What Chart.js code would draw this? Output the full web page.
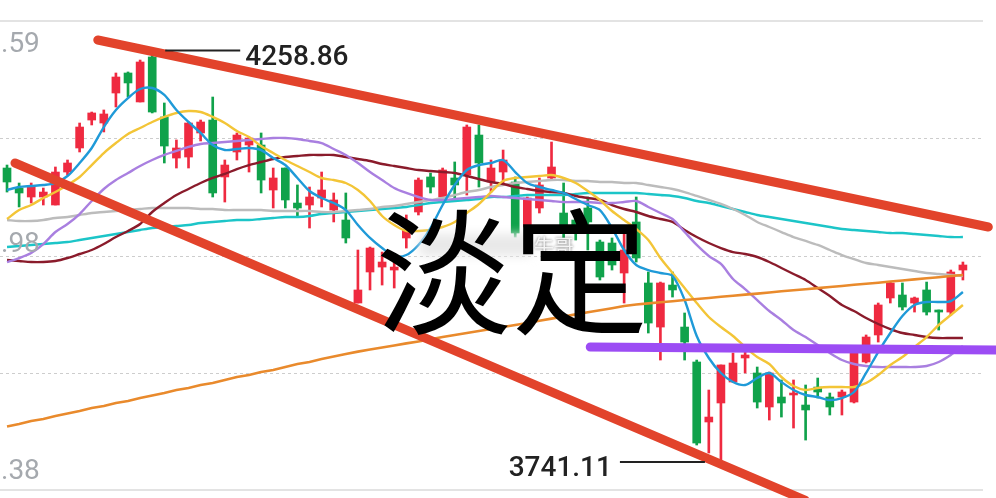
<!DOCTYPE html>
<html>
<head>
<meta charset="utf-8">
<script src="https://cdn.jsdelivr.net/npm/chart.js@4.4.1/dist/chart.umd.min.js"></script>
<style>
  html, body { margin: 0; padding: 0; background: #fff; overflow: hidden; }
  #wrap { width: 996px; height: 498px; }
</style>
</head>
<body>
<div id="wrap"><canvas id="kline" width="996" height="498"></canvas></div>
<script>
// daily candles, index 0..79
var opens  = [4115.5,4090.0,4078.6,4078.6,4068.4,4110.4,4141.0,4176.6,4172.8,4211.0,
              4236.5,4199.6,4256.9,4180.5,4128.2,4129.5,4160.1,4176.6,4104.1,4135.9,
              4144.8,4144.8,4087.5,4115.5,4070.9,4068.4,4077.3,4062.0,4049.3,3943.6,
              3983.1,3989.4,3985.6,4026.4,4059.5,4104.1,4078.6,4102.8,4106.6,4157.5,
              4097.7,4110.4,4097.7,4040.4,4064.6,4102.8,4058.2,4049.3,4064.6,4021.3,
              4020.0,3981.8,4046.8,3969.1,3913.0,3966.5,3913.0,3868.5,3792.1,3816.3,
              3843.0,3873.6,3854.5,3811.2,3823.9,3826.5,3813.7,3836.6,3823.9,3823.9,
              3817.5,3868.5,3902.9,3950.0,3953.8,3943.6,3960.2,3934.7,3932.1,3985.6]
var highs  = [4119.3,4096.4,4096.4,4090.0,4116.8,4125.7,4172.8,4186.8,4189.4,4236.5,
              4237.8,4253.0,4258.86,4198.3,4151.2,4174.1,4176.6,4205.9,4125.7,4160.1,
              4155.0,4160.1,4115.5,4115.5,4093.9,4091.3,4110.4,4083.7,4083.7,4011.1,
              4014.9,4008.5,4002.2,4055.7,4102.8,4109.1,4115.5,4123.2,4170.3,4170.3,
              4125.7,4138.4,4104.1,4078.6,4102.8,4148.6,4096.4,4062.0,4078.6,4023.8,
              4026.4,4040.4,4078.6,3983.1,3970.3,3983.1,3930.9,3871.0,3832.8,3864.7,
              3879.9,3881.2,3862.1,3855.7,3845.6,3845.6,3839.2,3848.1,3829.0,3832.8,
              3881.2,3902.9,3943.6,3970.3,3969.1,3951.2,3970.3,3934.7,3985.6,3995.8]
var lows   = [4084.9,4065.9,4070.9,4068.4,4068.4,4106.6,4135.9,4170.3,4161.4,4193.2,
              4205.9,4199.6,4185.6,4121.9,4115.5,4115.5,4149.9,4078.6,4072.2,4125.7,
              4110.4,4083.7,4064.6,4064.6,4053.1,4039.1,4065.9,4046.8,4020.0,3943.6,
              3960.2,3966.5,3962.7,4013.6,4055.7,4083.7,4078.6,4074.8,4081.1,4091.3,
              4084.9,4096.4,4027.6,4039.1,4058.2,4100.2,4026.4,4023.8,4011.1,3972.9,
              3985.6,3943.6,3995.8,3905.4,3871.0,3951.2,3871.0,3762.8,3752.6,3741.11,
              3843.0,3854.5,3809.9,3794.6,3798.4,3784.4,3769.1,3822.6,3801.0,3801.0,
              3816.3,3867.2,3893.9,3943.6,3934.7,3932.1,3928.3,3909.2,3928.3,3972.9]
var closes = [4097.7,4083.7,4091.3,4084.9,4110.4,4121.9,4167.7,4185.6,4184.3,4231.4,
              4223.8,4250.5,4186.8,4143.5,4141.0,4172.8,4174.1,4083.7,4119.3,4157.5,
              4153.7,4100.2,4102.8,4074.8,4064.6,4078.6,4087.5,4074.8,4026.4,3960.2,
              4013.6,3995.8,3989.4,4036.6,4100.2,4091.3,4113.0,4093.9,4167.7,4121.9,
              4115.5,4125.7,4032.7,4077.3,4093.9,4116.8,4032.7,4034.0,4046.8,3976.7,
              3992.0,4011.1,4000.9,3918.1,3969.1,3960.2,3893.9,3765.3,3798.4,3864.7,
              3867.2,3877.4,3817.5,3854.5,3816.3,3829.0,3807.4,3830.3,3811.2,3830.3,
              3879.9,3900.3,3941.1,3969.1,3938.5,3950.0,3932.1,3932.1,3983.1,3992.0]

// moving averages
var ma5   = [4087.5,4091.3,4092.6,4093.9,4096.4,4105.3,4121.9,4141.0,4167.7,4189.4,
             4204.6,4216.1,4217.4,4208.5,4189.4,4174.1,4160.1,4144.8,4138.4,4139.7,
             4141.0,4138.4,4128.2,4119.3,4102.8,4086.2,4077.3,4070.9,4062.0,4042.9,
             4026.4,4013.6,4003.5,4004.7,4017.5,4039.1,4068.4,4093.9,4113.0,4119.3,
             4121.9,4125.7,4110.4,4096.4,4091.3,4087.5,4083.7,4076.0,4068.4,4062.0,
             4039.1,4011.1,3992.0,3985.6,3981.8,3978.0,3947.4,3901.6,3873.6,3854.5,
             3843.0,3839.2,3848.1,3854.5,3843.0,3832.8,3826.5,3823.9,3820.1,3822.6,
             3830.3,3854.5,3881.2,3905.4,3927.1,3941.1,3944.9,3944.9,3946.1,3957.6]
var ma10  = [4050.6,4062.0,4068.4,4077.3,4084.9,4093.9,4104.1,4119.3,4134.6,4147.3,
             4158.8,4166.4,4174.1,4180.5,4185.6,4188.1,4186.8,4180.5,4172.8,4162.6,
             4155.0,4143.5,4134.6,4125.7,4118.1,4110.4,4102.8,4100.2,4096.4,4087.5,
             4073.5,4054.4,4042.9,4035.3,4035.3,4036.6,4040.4,4046.8,4058.2,4069.7,
             4084.9,4099.0,4102.8,4104.1,4105.3,4106.6,4102.8,4096.4,4086.2,4074.8,
             4060.8,4049.3,4037.8,4023.8,4000.9,3981.8,3962.7,3943.6,3925.8,3913.0,
             3901.6,3887.6,3874.8,3865.9,3849.4,3837.9,3832.8,3835.4,3836.6,3836.6,
             3836.6,3841.7,3851.9,3864.7,3874.8,3887.6,3900.3,3915.6,3928.3,3941.1]
var ma20  = [3995.8,4000.9,4007.3,4018.7,4034.0,4044.2,4056.9,4073.5,4088.8,4100.2,
             4109.1,4118.1,4125.7,4132.1,4137.2,4142.3,4146.1,4147.3,4148.6,4149.9,
             4151.2,4152.4,4153.7,4153.7,4152.4,4149.9,4147.3,4139.7,4132.1,4121.9,
             4110.4,4100.2,4090.0,4083.7,4078.6,4074.8,4074.8,4076.0,4077.3,4078.6,
             4079.9,4078.6,4077.3,4076.0,4074.8,4073.5,4072.2,4072.2,4072.2,4070.9,
             4070.9,4072.2,4073.5,4065.9,4058.2,4050.6,4034.0,4017.5,4003.5,3993.3,
             3974.2,3961.4,3947.4,3933.4,3922.0,3909.2,3900.3,3890.1,3879.9,3871.0,
             3865.9,3863.4,3862.1,3862.1,3862.1,3862.1,3863.4,3868.5,3877.4,3888.8]
var ma30  = [3998.4,3997.1,3995.8,3995.8,3997.1,4000.9,4006.0,4011.1,4018.7,4027.6,
             4035.3,4044.2,4059.5,4070.9,4081.1,4088.8,4096.4,4102.8,4107.9,4114.2,
             4119.3,4123.2,4127.0,4129.5,4130.8,4132.1,4132.1,4132.1,4129.5,4127.0,
             4124.4,4120.6,4118.1,4115.5,4113.0,4111.7,4110.4,4109.1,4105.3,4101.5,
             4097.7,4095.1,4091.3,4088.8,4086.2,4084.9,4083.7,4079.9,4077.3,4074.8,
             4068.4,4063.3,4059.5,4054.4,4050.6,4046.8,4036.6,4027.6,4020.0,4013.6,
             4008.5,4006.0,4002.2,3995.8,3988.2,3980.5,3972.9,3962.7,3952.5,3941.1,
             3933.4,3924.5,3916.9,3910.5,3905.4,3902.9,3900.3,3899.0,3899.0,3899.0]
var ma60  = [4049.3,4048.0,4048.0,4049.3,4051.8,4053.1,4055.7,4058.2,4059.5,4060.8,
             4062.0,4063.3,4064.6,4064.6,4064.6,4064.6,4063.3,4063.3,4062.0,4062.0,
             4062.0,4062.0,4060.8,4060.8,4060.8,4060.8,4059.5,4059.5,4060.8,4062.0,
             4063.3,4065.9,4067.1,4069.7,4072.2,4074.8,4077.3,4081.1,4084.9,4087.5,
             4091.3,4093.9,4096.4,4097.7,4099.0,4100.2,4100.2,4099.0,4099.0,4097.7,
             4097.7,4096.4,4096.4,4093.9,4091.3,4088.8,4084.9,4079.9,4074.8,4069.7,
             4063.3,4055.7,4046.8,4040.4,4034.0,4027.6,4022.6,4017.5,4011.1,4004.7,
             3999.6,3994.5,3992.0,3989.4,3986.9,3984.4,3981.8,3980.5,3979.3,3978.0]
var ma120 = [4014.9,4016.2,4017.5,4018.7,4020.0,4021.3,4023.8,4026.4,4028.9,4031.5,
             4034.0,4036.6,4039.1,4040.4,4041.7,4042.9,4045.5,4046.8,4048.0,4049.3,
             4049.3,4050.6,4051.8,4053.1,4053.1,4054.4,4056.9,4058.2,4059.5,4060.8,
             4062.0,4063.3,4064.6,4065.9,4068.4,4070.9,4072.2,4073.5,4074.8,4076.0,
             4078.6,4078.6,4079.9,4081.1,4081.1,4081.1,4081.1,4082.4,4083.7,4083.7,
             4083.7,4083.7,4083.7,4082.4,4081.1,4079.9,4077.3,4073.5,4070.9,4067.1,
             4063.3,4059.5,4055.7,4053.1,4050.6,4048.0,4045.5,4042.9,4040.4,4037.8,
             4036.6,4035.3,4034.0,4032.7,4032.7,4031.5,4030.2,4028.9,4027.6,4027.6]
var ma250 = [3786.3,3789.5,3793.3,3795.9,3799.7,3802.9,3806.1,3809.9,3812.4,3816.3,
             3818.8,3822.6,3825.8,3829.0,3832.8,3835.4,3839.2,3841.7,3845.6,3849.4,
             3851.9,3855.7,3858.3,3862.1,3865.9,3868.5,3872.3,3875.5,3878.7,3881.7,
             3884.3,3886.9,3889.5,3892.2,3894.7,3897.4,3900.3,3902.9,3905.4,3907.9,
             3910.5,3913.0,3915.6,3918.1,3921.1,3923.7,3926.5,3929.1,3931.8,3934.3,
             3937.0,3939.8,3941.7,3943.1,3944.6,3945.9,3947.4,3948.7,3950.0,3951.5,
             3952.9,3954.3,3955.6,3957.0,3958.5,3959.8,3961.2,3962.5,3964.0,3965.3,
             3966.8,3968.1,3969.5,3970.9,3972.3,3973.7,3975.1,3976.5,3977.9,3979.3]

// hand drawn lines (index, price)
var upperTrendX = [7.5, 81.1],  upperTrendY = [4278.5, 4040.4]
var lowerTrendX = [0.66, 65.95], lowerTrendY = [4121.9, 3692.7]
var supportX    = [48.2, 81.74], supportY    = [3887.6, 3883.8]

// marks and labels
var highIdx = 12, highVal = 4258.86
var lowIdx = 59,  lowVal = 3741.11
var priceLabelVals  = [4269.59, 3998.98, 3728.38]
var priceLabelTexts = ['.59', '.98', '.38']
var yMin = 3705.5, yMax = 4302.7

var upColor = '#ef2a40', downColor = '#10a24b'
var candleColors = opens.map((o, i) => closes[i] >= o ? upColor : downColor)

function pts(xs, ys) { return xs.map((x, i) => ({x: x, y: ys[i]})) }
function series(arr) { return arr.map((v, i) => ({x: i, y: v})) }

function maLine(data, color, order) {
  return {
    type: 'line', data: series(data), borderColor: color, borderWidth: 2.4,
    pointRadius: 0, tension: 0.3, order: order
  }
}
function handLine(xs, ys, color, width) {
  return {
    type: 'line', data: pts(xs, ys), borderColor: color, borderWidth: width,
    borderCapStyle: 'round', pointRadius: 0, tension: 0, clip: false, order: 1
  }
}

var gridPlugin = {
  id: 'grid',
  beforeDatasetsDraw(chart) {
    var ctx = chart.ctx, a = chart.chartArea, y = chart.scales.y
    ctx.save()
    for (var k = 0; k <= 4; k++) {
      var py = Math.round(y.getPixelForValue(y.min + k * (y.max - y.min) / 4))
      ctx.beginPath()
      if (k == 0 || k == 4) {
        ctx.strokeStyle = '#e3e3e3'; ctx.lineWidth = 2; ctx.setLineDash([])
      } else {
        ctx.strokeStyle = '#cdcdcd'; ctx.lineWidth = 1; ctx.setLineDash([3, 3]); py += 0.5
      }
      ctx.moveTo(a.left, py); ctx.lineTo(a.right, py); ctx.stroke()
    }
    ctx.restore()
  }
}

var notePlugin = {
  id: 'notes',
  afterDraw(chart) {
    var ctx = chart.ctx, x = chart.scales.x, y = chart.scales.y
    ctx.save()
    // price labels on the left
    var shift = [-2, -15, 0]
    ctx.font = '28px Roboto'
    ctx.fillStyle = '#a5a9ae'
    ctx.textAlign = 'left'; ctx.textBaseline = 'middle'
    priceLabelVals.forEach(function(v, k) {
      ctx.fillText(priceLabelTexts[k], 1, y.getPixelForValue(v) + shift[k])
    })

    // high / low marks
    ctx.strokeStyle = '#222'; ctx.fillStyle = '#222'; ctx.lineWidth = 2
    ctx.font = '500 28px Roboto'
    ctx.textBaseline = 'alphabetic'
    var hx = x.getPixelForValue(highIdx), hy = y.getPixelForValue(highVal)
    ctx.beginPath(); ctx.moveTo(hx + 13, hy - 5); ctx.lineTo(hx + 88, hy - 5); ctx.stroke()
    ctx.textAlign = 'left'
    ctx.fillText(highVal.toFixed(2), hx + 93, hy + 10)

    var lx = x.getPixelForValue(lowIdx), ly = y.getPixelForValue(lowVal)
    ctx.beginPath(); ctx.moveTo(lx - 101, ly); ctx.lineTo(lx - 16, ly); ctx.stroke()
    ctx.textAlign = 'right'
    ctx.fillText(lowVal.toFixed(2), lx - 109, ly + 14)

    // blurred watermark
    ctx.filter = 'blur(5px)'
    ctx.fillStyle = 'rgba(232,232,232,0.95)'
    ctx.fillRect(420, 234, 112, 22)
    ctx.filter = 'none'
    ctx.font = '20px "Noto Sans CJK SC"'
    ctx.textAlign = 'left'; ctx.textBaseline = 'middle'
    ctx.shadowColor = 'rgba(0,0,0,0.6)'; ctx.shadowBlur = 3
    ctx.fillStyle = '#f4f4f4'
    ctx.fillText('牛哥', 534, 246)
    ctx.shadowBlur = 0

    // big caption
    ctx.font = '400 136px "Noto Sans CJK SC"'
    ctx.fillStyle = '#000'
    ctx.textAlign = 'center'; ctx.textBaseline = 'alphabetic'
    ctx.fillText('淡定', 512, 324)
    ctx.restore()
  }
}

var ctx = document.getElementById('kline').getContext('2d')
new Chart(ctx, {
  type: 'bar',
  data: {
    datasets: [
      handLine(upperTrendX, upperTrendY, '#e2432b', 9),
      handLine(lowerTrendX, lowerTrendY, '#e2432b', 9),
      handLine(supportX, supportY, '#9c4cf4', 9),
      maLine(ma5, '#1f9ad8', 4),
      maLine(ma10, '#f3c537', 5),
      maLine(ma20, '#a97fe0', 6),
      maLine(ma30, '#8a1b2b', 7),
      maLine(ma60, '#bcbcbc', 8),
      maLine(ma120, '#1cc5c8', 9),
      Object.assign(maLine(ma250, '#e98a2c', 3), {tension: 0, borderWidth: 2.6}),
      {
        label: 'body', data: opens.map((o, i) => ({x: i, y: [o, closes[i]]})),
        backgroundColor: candleColors, barThickness: 8, grouped: false, order: 19,
        minBarLength: 1
      },
      {
        label: 'wick', data: highs.map((h, i) => ({x: i, y: [lows[i], h]})),
        backgroundColor: candleColors, barThickness: 2, grouped: false, order: 20
      }
    ]
  },
  options: {
    responsive: false,
    animation: false,
    devicePixelRatio: 1,
    layout: { padding: { left: 0, right: 13, top: 21, bottom: 8 } },
    plugins: { legend: { display: false }, tooltip: { enabled: false } },
    scales: {
      x: { type: 'linear', min: -0.58, max: 80.66, offset: false, display: false },
      y: { min: yMin, max: yMax, display: false }
    }
  },
  plugins: [gridPlugin, notePlugin]
})
</script>
</body>
</html>
